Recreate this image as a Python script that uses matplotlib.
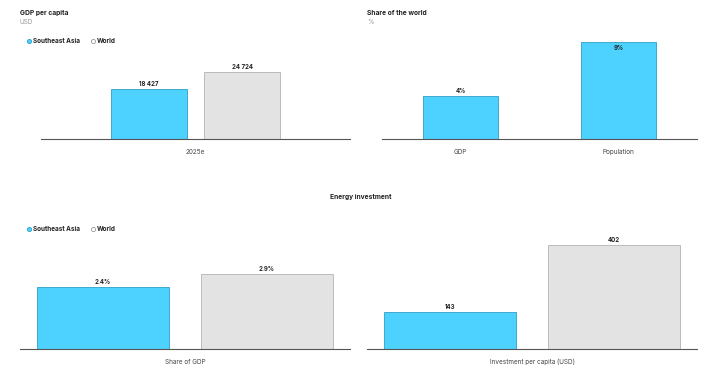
import matplotlib.pyplot as plt
from matplotlib.lines import Line2D

# data
gdp_cat = ["2025e"]
gdp_sea = [18427]
gdp_world = [24724]

share_cat = ["GDP", "Population"]
share_vals = [4, 9]

inv_share_sea = [2.4]
inv_share_world = [2.9]
inv_pc_sea = [143]
inv_pc_world = [402]

SEA = "#4dd2ff"
SEA_EDGE = "#2f9fc6"
WORLD = "#e3e3e3"
WORLD_EDGE = "#b3b3b3"
TXT = "#222222"

plt.rcParams['font.family'] = ['Inter', 'DejaVu Sans']

W, H = 712, 383
fig = plt.figure(figsize=(W / 100, H / 100), dpi=100)


def px_axes(x0, x1, ytop, ybot):
    return fig.add_axes([x0 / W, 1 - ybot / H, (x1 - x0) / W, (ybot - ytop) / H])


def style(ax, labels, xlim, ymax):
    ax.set_xlim(*xlim)
    ax.set_ylim(0, ymax)
    for s in ["top", "right", "left"]:
        ax.spines[s].set_visible(False)
    ax.spines["bottom"].set_color("#555555")
    ax.spines["bottom"].set_linewidth(0.8)
    ax.set_yticks([])
    ax.set_xticks(range(len(labels)))
    ax.set_xticklabels(labels, fontsize=4.6, color="#444444")
    ax.tick_params(axis="x", length=0, pad=7)
    ax.patch.set_alpha(0)


def label_bars(ax, bars, vals, fmt, ymax):
    for b, v in zip(bars, vals):
        x = b.get_x() + b.get_width() / 2
        if v > ymax * 0.93:
            ax.annotate(fmt(v), (x, v), xytext=(0, -2), textcoords="offset points",
                        ha="center", va="top", fontsize=4.4, fontweight="bold", color=TXT)
        else:
            ax.annotate(fmt(v), (x, v), xytext=(0, 1.5), textcoords="offset points",
                        ha="center", va="bottom", fontsize=4.4, fontweight="bold", color=TXT)


def legend(x, y):
    handles = [
        Line2D([], [], marker="o", ls="", markersize=3, markerfacecolor=SEA,
               markeredgecolor=SEA_EDGE, markeredgewidth=0.6, label="Southeast Asia"),
        Line2D([], [], marker="o", ls="", markersize=3, markerfacecolor="white",
               markeredgecolor="#999999", markeredgewidth=0.6, label="World"),
    ]
    leg = fig.legend(handles=handles, loc="center left", bbox_to_anchor=(x / W, 1 - y / H),
                     ncol=2, frameon=False, handlelength=0.6, handletextpad=0.3,
                     columnspacing=1.8, borderpad=0, prop={"size": 4.6, "weight": "bold"})
    for t in leg.get_texts():
        t.set_color(TXT)


def thousands(v):
    return f"{v:,}".replace(",", " ")


# GDP per capita
ax1 = px_axes(41, 350, 60, 139)
ymax1 = 79 / (50 / 18427)
style(ax1, gdp_cat, (-0.5, 0.5), ymax1)
b1 = ax1.bar([-0.1505], gdp_sea, 0.243, color=SEA, edgecolor=SEA_EDGE, linewidth=0.6)
b2 = ax1.bar([0.1505], gdp_world, 0.243, color=WORLD, edgecolor=WORLD_EDGE, linewidth=0.6)
label_bars(ax1, b1, gdp_sea, thousands, ymax1)
label_bars(ax1, b2, gdp_world, thousands, ymax1)
fig.text(20 / W, 1 - 13 / H, "GDP per capita", fontsize=4.8, fontweight="bold",
         color=TXT, va="center")
fig.text(20 / W, 1 - 22.5 / H, "USD", fontsize=4.6, color="#999999", va="center")
legend(24, 41)

# Share of the world
ax2 = px_axes(382, 697, 40, 139)
ymax2 = 99 / 10.78
style(ax2, share_cat, (-0.5, 1.5), ymax2)
b3 = ax2.bar(range(len(share_vals)), share_vals, 0.476, color=SEA, edgecolor=SEA_EDGE,
             linewidth=0.6)
label_bars(ax2, b3, share_vals, lambda v: f"{v}%", ymax2)
fig.text(367 / W, 1 - 13 / H, "Share of the world", fontsize=4.8, fontweight="bold",
         color=TXT, va="center")
fig.text(367 / W, 1 - 22.5 / H, "%", fontsize=4.6, color="#999999", va="center")

# Energy investment
fig.text(361 / W, 1 - 197 / H, "Energy investment", fontsize=4.8, fontweight="bold",
         color=TXT, ha="center", va="center")
legend(24, 229)

ax3 = px_axes(20, 350, 250, 349)
ymax3 = 99 / 25.85
style(ax3, ["Share of GDP"], (-0.5, 0.5), ymax3)
b4 = ax3.bar([-0.2485], inv_share_sea, 0.4, color=SEA, edgecolor=SEA_EDGE, linewidth=0.6)
b5 = ax3.bar([0.2485], inv_share_world, 0.4, color=WORLD, edgecolor=WORLD_EDGE, linewidth=0.6)
label_bars(ax3, b4, inv_share_sea, lambda v: f"{v}%", ymax3)
label_bars(ax3, b5, inv_share_world, lambda v: f"{v}%", ymax3)

ax4 = px_axes(367, 697, 235, 349)
ymax4 = 114 / 0.2588
style(ax4, ["Investment per capita (USD)"], (-0.5, 0.5), ymax4)
b6 = ax4.bar([-0.2485], inv_pc_sea, 0.4, color=SEA, edgecolor=SEA_EDGE, linewidth=0.6)
b7 = ax4.bar([0.2485], inv_pc_world, 0.4, color=WORLD, edgecolor=WORLD_EDGE, linewidth=0.6)
label_bars(ax4, b6, inv_pc_sea, str, ymax4)
label_bars(ax4, b7, inv_pc_world, str, ymax4)

fig.savefig("out.png", dpi=100)
